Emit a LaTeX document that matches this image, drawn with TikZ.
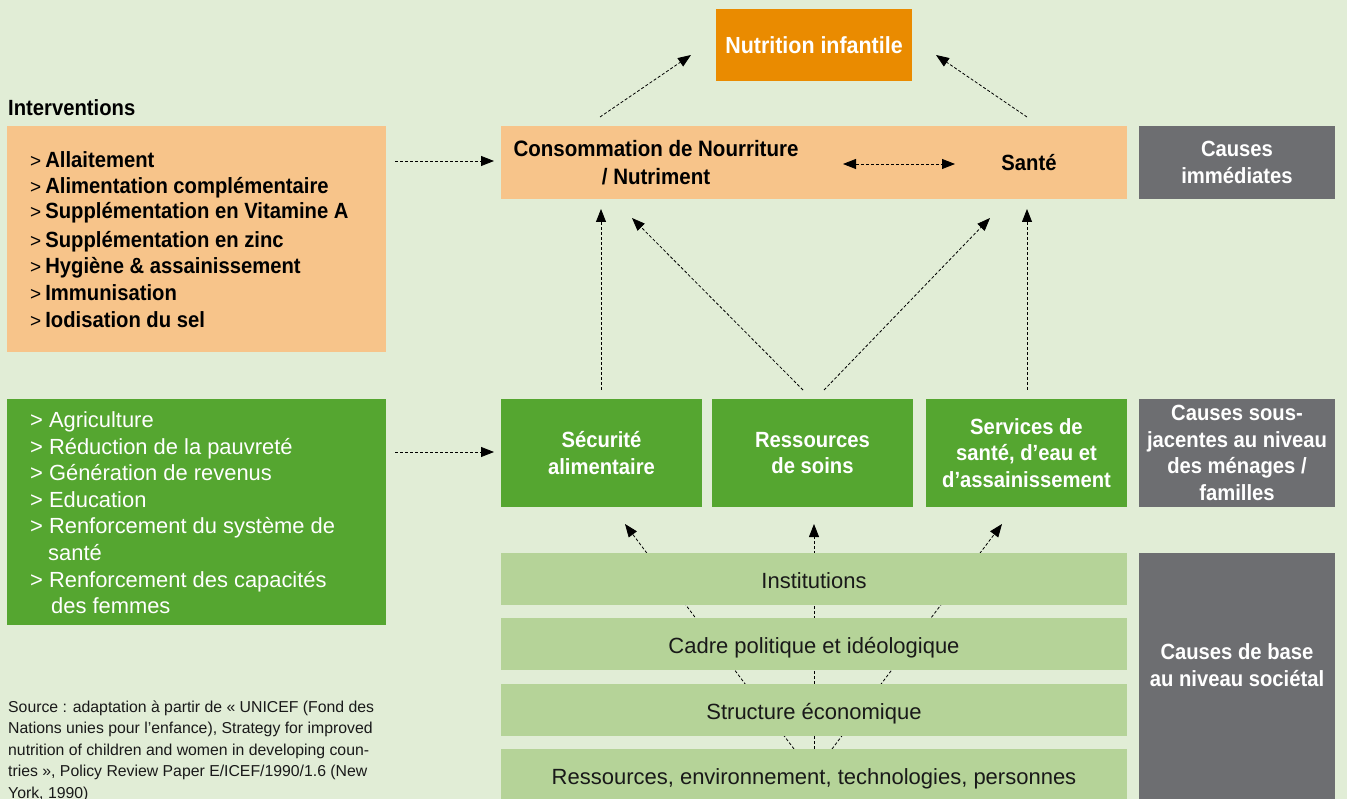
\documentclass[tikz,border=0pt]{standalone}
\usepackage{fontspec}
\setmainfont{Liberation Sans}
\newfontfamily\condfont{Liberation Sans}[FakeStretch=0.92]
\usetikzlibrary{arrows.meta}
\definecolor{pagebg}{RGB}{225,237,214}
\definecolor{nutorange}{RGB}{234,139,0}
\definecolor{lorange}{RGB}{247,196,138}
\definecolor{dgreen}{RGB}{85,166,48}
\definecolor{lgreen}{RGB}{181,211,152}
\definecolor{causegray}{RGB}{109,110,113}
\definecolor{darktext}{RGB}{25,25,25}
\pgfdeclarelayer{back}
\pgfdeclarelayer{mid}
\pgfsetlayers{back,mid,main}
\newcommand\mygt{{\normalfont\fontsize{19}{20}\selectfont >}}
\begin{document}
\begin{tikzpicture}[x=1pt,y=-1pt,
  box/.style={anchor=north west, inner sep=0pt, outer sep=0pt, align=center},
  bftext/.style={font=\condfont\bfseries\fontsize{22}{26.5}\selectfont},
  rgtext/.style={font=\fontsize{21.9}{26.6}\selectfont},
  layertext/.style={font=\fontsize{22}{26}\selectfont, text=darktext, text height=22pt, text depth=4pt},
  srctext/.style={font=\fontsize{15.8}{21.5}\selectfont, text=darktext},
  dasharrow/.style={line width=0.8pt, dash pattern=on 3pt off 2pt, -{Triangle[length=13pt,width=10pt]}},
  dashboth/.style={line width=0.8pt, dash pattern=on 3pt off 2pt, {Triangle[length=13pt,width=10pt]}-{Triangle[length=13pt,width=10pt]}}
]
\useasboundingbox (0,0) rectangle (1347,799);
\begin{pgfonlayer}{back}
  \fill[pagebg] (0,0) rectangle (1347,799);
\end{pgfonlayer}

% top
\node[box, fill=nutorange, minimum width=196pt, minimum height=72pt, text=white, font=\condfont\bfseries\fontsize{23.3}{26.5}\selectfont] (nut) at (716,9) {Nutrition infantile};
\node[box, fill=lorange, minimum width=626pt, minimum height=73pt] (imm) at (501,126) {};
\node[align=center, inner sep=0pt, font=\condfont\bfseries\fontsize{22.3}{28.5}\selectfont] (cons) at (656,162.5) {Consommation de Nourriture\\/ Nutriment};
\node[bftext, inner sep=0pt] (sante) at (1029,163) {Santé};
\node[box, fill=causegray, minimum width=196pt, minimum height=73pt, text=white, bftext] (ci) at (1139,126) {Causes\\immédiates};

% interventions
\node[anchor=base west, inner sep=0pt, bftext] (ivt) at (8,116) {Interventions};
\node[box, fill=lorange, minimum width=379pt, minimum height=226pt] (intv) at (7,126) {};
\foreach \yy/\tx [count=\i] in {160/Allaitement, 186/Alimentation complémentaire, 211/Supplémentation en Vitamine A, 240/Supplémentation en zinc, 266/Hygiène \& assainissement, 293/Immunisation, 320/Iodisation du sel}
  \node[anchor=base west, inner sep=0pt, bftext] (iv\i) at (30,\yy+8) {\mygt\hspace{4pt}\tx};

% green list
\node[box, fill=dgreen, minimum width=379pt, minimum height=226pt] (gbox) at (7,399) {};
\foreach \xx/\yy/\tx [count=\i] in {30/420/> Agriculture, 30/447/> Réduction de la pauvreté, 30/473/> Génération de revenus, 30/500/> Education, 30/526/> Renforcement du système de, 48/553/santé, 30/580/> Renforcement des capacités, 51/606/des femmes}
  \node[anchor=base west, inner sep=0pt, rgtext, text=white] (gl\i) at (\xx,\yy+7.5) {\tx};

% middle row
\node[box, fill=dgreen, minimum width=201pt, minimum height=108pt, text=white, bftext] (secu) at (501,399) {Sécurité\\alimentaire};
\node[box, fill=dgreen, minimum width=201pt, minimum height=108pt, text=white, bftext] (soins) at (712,399) {Ressources\\de soins};
\node[box, fill=dgreen, minimum width=201pt, minimum height=108pt, text=white, bftext] (serv) at (926,399) {Services de\\santé, d’eau et\\d’assainissement};
\node[box, fill=causegray, minimum width=196pt, minimum height=108pt, text=white, bftext] (csj) at (1139,399) {Causes sous-\\jacentes au niveau\\des ménages /\\familles};

% bottom rows
\node[box, fill=lgreen, minimum width=626pt, minimum height=52pt, layertext] (inst) at (501,553) {Institutions};
\node[box, fill=lgreen, minimum width=626pt, minimum height=52pt, layertext] (cadre) at (501,618) {Cadre politique et idéologique};
\node[box, fill=lgreen, minimum width=626pt, minimum height=52pt, layertext] (struct) at (501,684) {Structure économique};
\node[box, fill=lgreen, minimum width=626pt, minimum height=52pt, layertext] (ress) at (501,749) {Ressources, environnement, technologies, personnes};
\node[box, fill=causegray, minimum width=196pt, minimum height=250pt] (cb) at (1139,553) {};
\node[bftext, text=white, align=center, inner sep=0pt] (cbt) at (1237,665) {Causes de base\\au niveau sociétal};

% source
\foreach \yy/\tx [count=\i] in {712/{Source : adaptation à partir de « UNICEF (Fond des}, 733.5/{Nations unies pour l’enfance), Strategy for improved}, 755/{nutrition of children and women in developing coun-}, 776.5/{tries », Policy Review Paper E/ICEF/1990/1.6 (New}, 798/{York, 1990)}}
  \node[anchor=base west, inner sep=0pt, srctext] (src\i) at (8,\yy) {\tx};

% coordinates for connectors
\coordinate (a1s) at (600,117);  \coordinate (a1e) at (691,55);
\coordinate (a2s) at (1027,117); \coordinate (a2e) at (936,55);
\coordinate (a3s) at (843,164);  \coordinate (a3e) at (955,164);
\coordinate (a4s) at (395,161);  \coordinate (a4e) at (494,161);
\coordinate (a5s) at (395,452);  \coordinate (a5e) at (494,452);
\coordinate (a6s) at (601,390);  \coordinate (a6e) at (601,209);
\coordinate (a7s) at (803,390);  \coordinate (a7e) at (632,218);
\coordinate (a8s) at (824,390);  \coordinate (a8e) at (990,218);
\coordinate (a9s) at (1027,390); \coordinate (a9e) at (1027,209);
\coordinate (b1s) at (794,749);  \coordinate (b1e) at (625,524);
\coordinate (b2s) at (814,749);  \coordinate (b2e) at (814,524);
\coordinate (b3s) at (832,749);  \coordinate (b3e) at (1002,524);

\draw[dasharrow] (a1s) -- (a1e);
\draw[dasharrow] (a2s) -- (a2e);
\draw[dashboth] (a3s) -- (a3e);
\draw[dasharrow] (a4s) -- (a4e);
\draw[dasharrow] (a5s) -- (a5e);
\draw[dasharrow] (a6s) -- (a6e);
\draw[dasharrow] (a7s) -- (a7e);
\draw[dasharrow] (a8s) -- (a8e);
\draw[dasharrow] (a9s) -- (a9e);
\begin{pgfonlayer}{mid}
  \draw[dasharrow] (b1s) -- (b1e);
  \draw[dasharrow] (b2s) -- (b2e);
  \draw[dasharrow] (b3s) -- (b3e);
\end{pgfonlayer}
\end{tikzpicture}
\end{document}
